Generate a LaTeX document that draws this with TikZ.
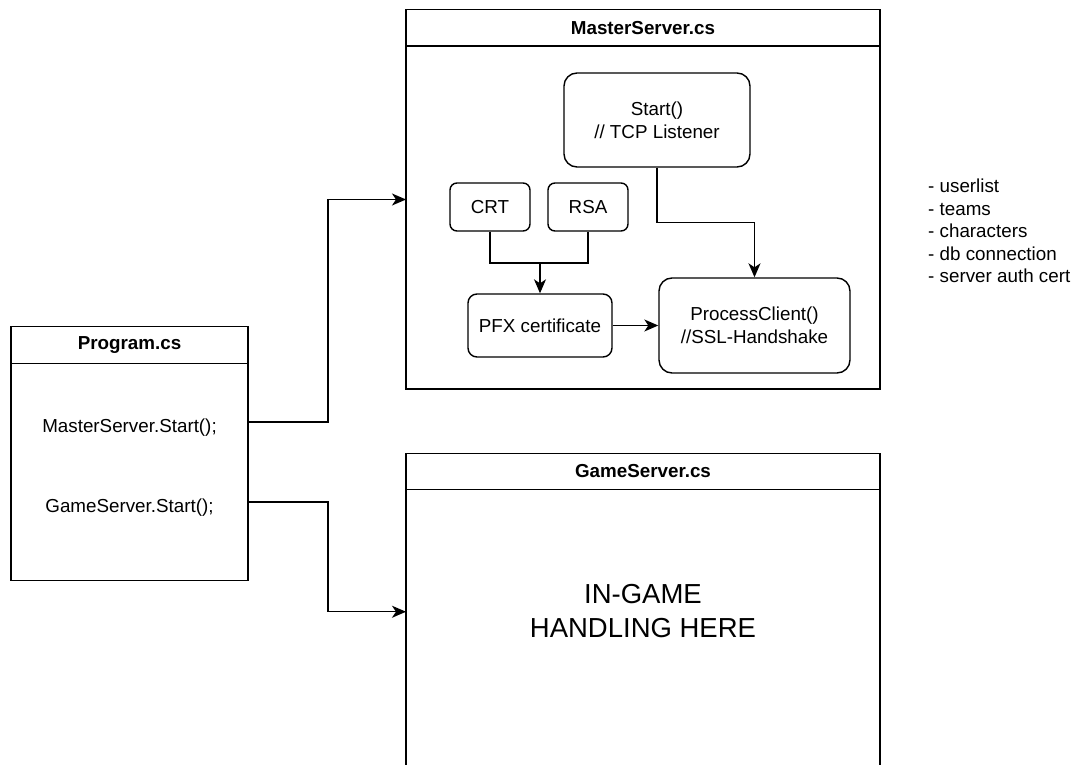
\documentclass[tikz,border=0pt]{standalone}
\usepackage{fontspec}
\setmainfont{Liberation Sans}
\usepackage{tikz}
\usetikzlibrary{shapes,positioning,calc}
\usetikzlibrary{arrows.meta}
\tikzstyle{testa} = [rectangle, draw=black, line width=1.4pt, outer sep=0pt,
font=\fontsize{18.8pt}{22.6pt}\selectfont\bfseries, text centered, minimum height=36.5pt]
\tikzstyle{corpo} = [rectangle, draw=black, line width=1.4pt, outer sep=0pt]
\tikzstyle{blocco} = [rectangle, rounded corners=9pt, draw=black, line width=1.4pt, align=center]
\tikzstyle{arrow} = [line width=1.4pt,-{Stealth[length=14pt,width=12pt,inset=4pt]}]

\begin{document}
\begin{tikzpicture}[x=1pt, y=-1pt, font=\fontsize{18.8pt}{22.6pt}\selectfont]
\useasboundingbox (0,0) rectangle (1084,765);
\clip (0,0) rectangle (1084,765);
% classi
\node (progh) at (129.5,345) [testa, minimum width=237pt] {Program.cs};
\node (prog) [corpo, below=0pt of progh, minimum width=237pt, minimum height=217pt] {};
\node (callms) at (129.5,428) {MasterServer.Start();};
\node (callgs) at (129.5,508) {GameServer.Start();};
\node (msh) at (643,27.75) [testa, minimum width=474pt] {MasterServer.cs};
\node (ms) [corpo, below=0pt of msh, minimum width=474pt, minimum height=343pt] {};
\node (gsh) at (643,471.5) [testa, minimum width=474pt] {GameServer.cs};
\node (gs) [corpo, below=0pt of gsh, minimum width=474pt, minimum height=300pt] {};
\node (ingame) at (643,611) [align=center, font=\fontsize{27.5pt}{34pt}\selectfont] {IN-GAME\\HANDLING HERE};
% MasterServer
\node (start) at (657,120) [blocco, rounded corners=13pt, minimum width=186pt, minimum height=94pt] {Start()\\// TCP Listener};
\node (crt) at (490,207) [blocco, rounded corners=7pt, minimum width=80pt, minimum height=48pt] {CRT};
\node (rsa) at (588,207) [blocco, rounded corners=7pt, minimum width=80pt, minimum height=48pt] {RSA};
\node (pfx) at (540,325.5) [blocco, minimum width=144pt, minimum height=63pt] {PFX certificate};
\node (proc) at (754.5,325.5) [blocco, rounded corners=13pt, minimum width=191pt, minimum height=95pt] {ProcessClient()\\//SSL-Handshake};
\coordinate (join) at (540,263);
\draw[line width=1.4pt] (crt.south) |- (join) -| (rsa.south);
\draw[arrow] (join) -- (pfx.north);
\draw[arrow] (pfx) -- (proc);
\draw[arrow] (start.south) -- ++(0,55) -| (proc.north);
\node (dati) at (928,231) [anchor=west, align=left, inner sep=0pt] {- userlist\\- teams\\- characters\\- db connection\\- server auth cert};
% chiamate
\draw[arrow] ([yshift=6pt]prog.east |- callms) -- ++(80,0) |- ([yshift=18pt]ms.west);
\draw[arrow] ([yshift=6pt]prog.east |- callgs) -- ++(80,0) |- ([yshift=28pt]gs.west);
\end{tikzpicture}
\end{document}
